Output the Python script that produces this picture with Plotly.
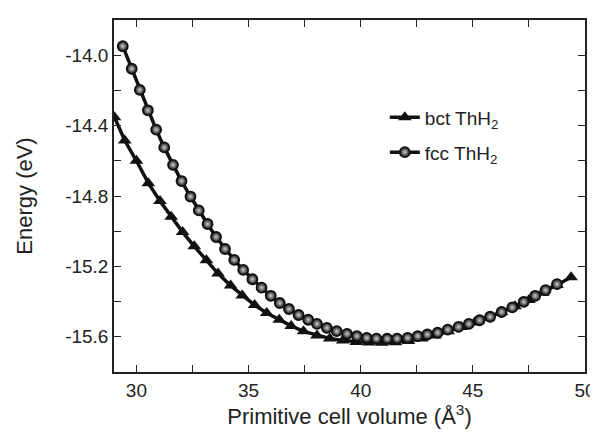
import plotly.graph_objects as go

# fcc ThH2 (primitive cell volume, energy)
fcc_volume = [29.39, 29.79, 30.15, 30.51, 30.88, 31.24, 31.63, 32.01, 32.41, 32.78,
              33.17, 33.55, 33.95, 34.36, 34.76, 35.17, 35.58, 35.99, 36.39, 36.80,
              37.23, 37.66, 38.05, 38.49, 38.93, 39.39, 39.83, 40.27, 40.70, 41.18,
              41.62, 42.09, 42.54, 42.97, 43.43, 43.88, 44.36, 44.82, 45.30, 45.77,
              46.28, 46.76, 47.27, 47.78, 48.24, 48.75]
fcc_energy = [-13.949, -14.077, -14.197, -14.313, -14.423, -14.524, -14.623, -14.715, -14.803, -14.882,
              -14.959, -15.033, -15.101, -15.163, -15.220, -15.273, -15.321, -15.367, -15.408, -15.442,
              -15.476, -15.503, -15.527, -15.549, -15.568, -15.583, -15.596, -15.606, -15.610, -15.611,
              -15.610, -15.606, -15.596, -15.587, -15.577, -15.559, -15.544, -15.527, -15.506, -15.486,
              -15.459, -15.433, -15.401, -15.367, -15.335, -15.301]

# bct ThH2
bct_volume = [29.02, 29.48, 30.00, 30.53, 31.05, 31.55, 32.06, 32.58, 33.12, 33.64,
              34.20, 34.72, 35.27, 35.81, 36.37, 36.90, 37.45, 38.05, 38.62, 39.20,
              39.80, 40.37, 40.95, 41.55, 42.13, 42.72, 43.30, 43.90, 44.48, 45.08,
              45.68, 46.28, 46.88, 47.50, 48.12, 48.75, 49.38]
bct_energy = [-14.352, -14.485, -14.600, -14.727, -14.828, -14.918, -15.005, -15.086, -15.165, -15.241,
              -15.309, -15.366, -15.420, -15.465, -15.503, -15.538, -15.569, -15.592, -15.609, -15.621,
              -15.629, -15.633, -15.634, -15.631, -15.624, -15.610, -15.592, -15.568, -15.545, -15.519,
              -15.491, -15.460, -15.427, -15.391, -15.350, -15.305, -15.262]

x_ticks = [30, 35, 40, 45, 50]
x_ticktext = ["30", "35", "40", "45", "50"]
x_minor = [32.5, 37.5, 42.5, 47.5]
y_ticks = [-14.0, -14.4, -14.8, -15.2, -15.6]
y_ticktext = ["-14.0", "-14.4", "-14.8", "-15.2", "-15.6"]
y_minor = [-13.8, -14.2, -14.6, -15.0, -15.4, -15.8]

FONT = "Liberation Sans, Arial, sans-serif"
INK = "#111111"

fig = go.Figure()
fig.add_trace(go.Scatter(
    x=bct_volume, y=bct_energy, mode="lines+markers", name="bct ThH<sub>2</sub>",
    line=dict(color=INK, width=3.5),
    marker=dict(symbol="triangle-up", size=12, color=INK),
    legend="legend",
))
fig.add_trace(go.Scatter(
    x=fcc_volume, y=fcc_energy, mode="lines+markers", name="fcc ThH<sub>2</sub>",
    line=dict(color=INK, width=3.5),
    marker=dict(symbol="circle", size=10, color=INK,
                gradient=dict(type="radial", color="#d0d0d0"),
                line=dict(color=INK, width=1.8)),
    legend="legend2",
))

axis_common = dict(
    showgrid=False, zeroline=False, showline=True, linecolor="#222222", linewidth=1.5,
    mirror="ticks", ticks="inside", ticklen=7, tickwidth=1.2, tickcolor="#222222",
    tickfont=dict(family=FONT, size=19, color="#222222"),
)

fig.update_xaxes(
    range=[29, 50], tickmode="array", tickvals=x_ticks, ticktext=x_ticktext,
    minor=dict(tickmode="array", tickvals=x_minor, ticks="inside", ticklen=7,
               tickwidth=1.2, tickcolor="#222222"),
    title=dict(text="Primitive cell volume (Å<sup>3</sup>)",
               font=dict(family=FONT, size=22, color="#222222"), standoff=2),
    **axis_common,
)
fig.update_yaxes(
    range=[-15.8, -13.8], tickmode="array", tickvals=y_ticks, ticktext=y_ticktext,
    minor=dict(tickmode="array", tickvals=y_minor, ticks="inside", ticklen=7,
               tickwidth=1.2, tickcolor="#222222"),
    title=dict(text="Energy (eV)", font=dict(family=FONT, size=22, color="#222222"), standoff=26),
    **axis_common,
)

legend_common = dict(xanchor="left", yanchor="top", bgcolor="rgba(0,0,0,0)",
                     font=dict(family=FONT, size=19, color="#222222"))
fig.update_layout(
    width=598, height=432,
    margin=dict(l=106, r=11, t=10, b=68),
    paper_bgcolor="white", plot_bgcolor="white",
    showlegend=True,
    legend=dict(x=0.575, y=0.777, **legend_common),
    legend2=dict(x=0.575, y=0.678, **legend_common),
)

fig.write_html("out.html")
